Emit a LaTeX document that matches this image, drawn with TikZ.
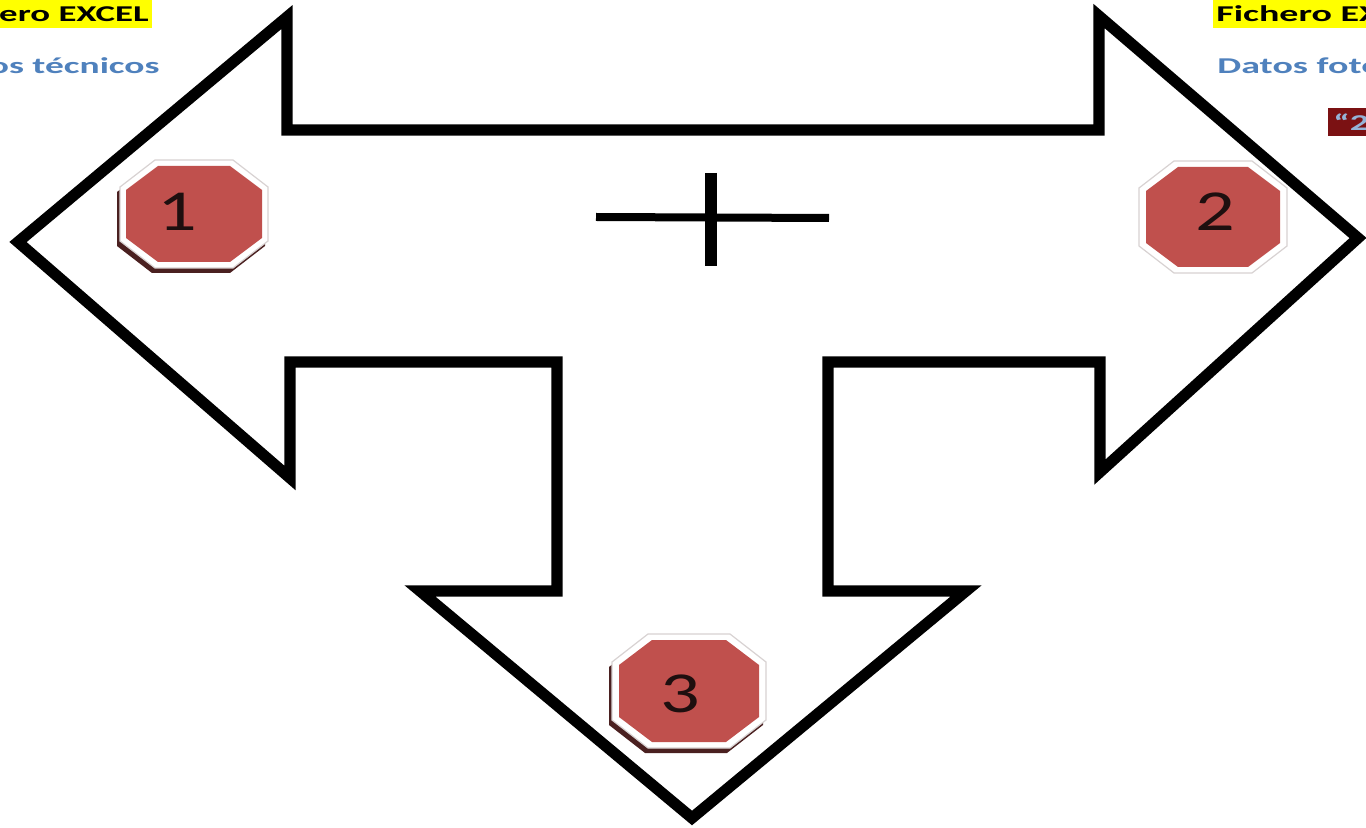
\documentclass[tikz,border=0pt]{standalone}
\usepackage{fontspec}
\usepackage{graphicx}
\setmainfont{Carlito}
\definecolor{octred}{HTML}{C0504D}
\definecolor{hlyellow}{HTML}{FFFF00}
\definecolor{txtblue}{HTML}{4F81BD}
\definecolor{boxred}{HTML}{7B1113}
\definecolor{lblue}{HTML}{95B3D7}
\definecolor{shadowbrown}{HTML}{4A2020}
\definecolor{halogray}{HTML}{D8D2D2}
\definecolor{digitcol}{HTML}{1E0F0F}
\newcommand\myoct[6]{(#1-#3+#5,#2-#4) -- (#1+#3-#5,#2-#4) -- (#1+#3,#2-#4+#6) -- (#1+#3,#2+#4-#6) -- (#1+#3-#5,#2+#4) -- (#1-#3+#5,#2+#4) -- (#1-#3,#2+#4-#6) -- (#1-#3,#2-#4+#6) -- cycle}
\newcommand\widetxt[2]{\scalebox{#1}[1]{#2}}
\begin{document}
\begin{tikzpicture}[x=0.5pt,y=-0.5pt,
  outline/.style={draw=black,line width=5.6pt,line join=miter,miter limit=10},
  crossline/.style={draw=black,line cap=butt},
  hl/.style={fill=hlyellow,inner xsep=1.5pt,inner ysep=0pt,minimum height=14pt,text=black,font=\bfseries\fontsize{11.3}{13}\selectfont},
  bluetxt/.style={text=txtblue,inner sep=0pt,font=\bfseries\fontsize{11.3}{13}\selectfont},
  redbox/.style={fill=boxred,text=lblue,inner xsep=2.5pt,inner ysep=0pt,minimum height=14pt,text width=30pt,align=left,font=\bfseries\fontsize{11.3}{13}\selectfont},
  numtxt/.style={text=digitcol,inner sep=0pt,font=\fontsize{29}{30}\selectfont},
  halo/.style={fill=white,draw=halogray,line width=0.6pt},
  octfill/.style={fill=octred},
  shadow/.style={fill=shadowbrown}]
\useasboundingbox (0,0) rectangle (1366,828);
\clip (0,0) rectangle (1366,828);
\fill[white] (0,0) rectangle (1366,828);

% big three-way arrow outline
\draw[outline] (18,242) -- (287,17) -- (287,130) -- (1099,130) -- (1099,16)
  -- (1358,238) -- (1100,472) -- (1100,362) -- (828,362) -- (828,591)
  -- (966,591) -- (692,818) -- (420,591) -- (557,591) -- (557,362)
  -- (290,362) -- (290,478) -- cycle;

% cross in the middle
\draw[crossline,line width=4pt] (596,217) -- (829,218);
\draw[crossline,line width=6pt] (711,173) -- (711,266);

% octagon 1
\begin{scope}[shift={(-3,5)}]
\fill[shadow] \myoct{194}{214}{74}{54}{35}{27};
\end{scope}
\filldraw[halo] \myoct{194}{214}{74}{54}{35}{27};
\fill[octfill] \myoct{194}{214}{68}{48}{32}{24};
\node[numtxt] (n1) at (177,212) {\widetxt{1.35}{1}};

% octagon 2
\filldraw[halo] \myoct{1213}{217}{74}{56}{35}{27};
\fill[octfill] \myoct{1213}{217}{67}{50}{32}{24};
\node[numtxt] (n2) at (1215,212) {\widetxt{1.35}{2}};

% octagon 3
\begin{scope}[shift={(-3,5)}]
\fill[shadow] \myoct{689}{691}{77}{57}{36}{28};
\end{scope}
\filldraw[halo] \myoct{689}{691}{77}{57}{36}{28};
\fill[octfill] \myoct{689}{691}{70}{51}{33}{25};
\node[numtxt] (n3) at (680,694) {\widetxt{1.35}{3}};

% top labels
\node[hl,anchor=east] (excelL) at (152,14) {\widetxt{1.63}{Fichero EXCEL}};
\node[bluetxt,anchor=base east] (datL) at (160,74) {\widetxt{1.66}{Datos técnicos}};
\node[hl,anchor=west] (excelR) at (1213,14) {\widetxt{1.68}{Fichero EXCEL}};
\node[bluetxt,anchor=base west] (datR) at (1217,74) {\widetxt{1.68}{Datos fotográficos}};
\node[redbox,anchor=north west] (boxR) at (1328,108) {\widetxt{1.68}{“2}};
\end{tikzpicture}
\end{document}
